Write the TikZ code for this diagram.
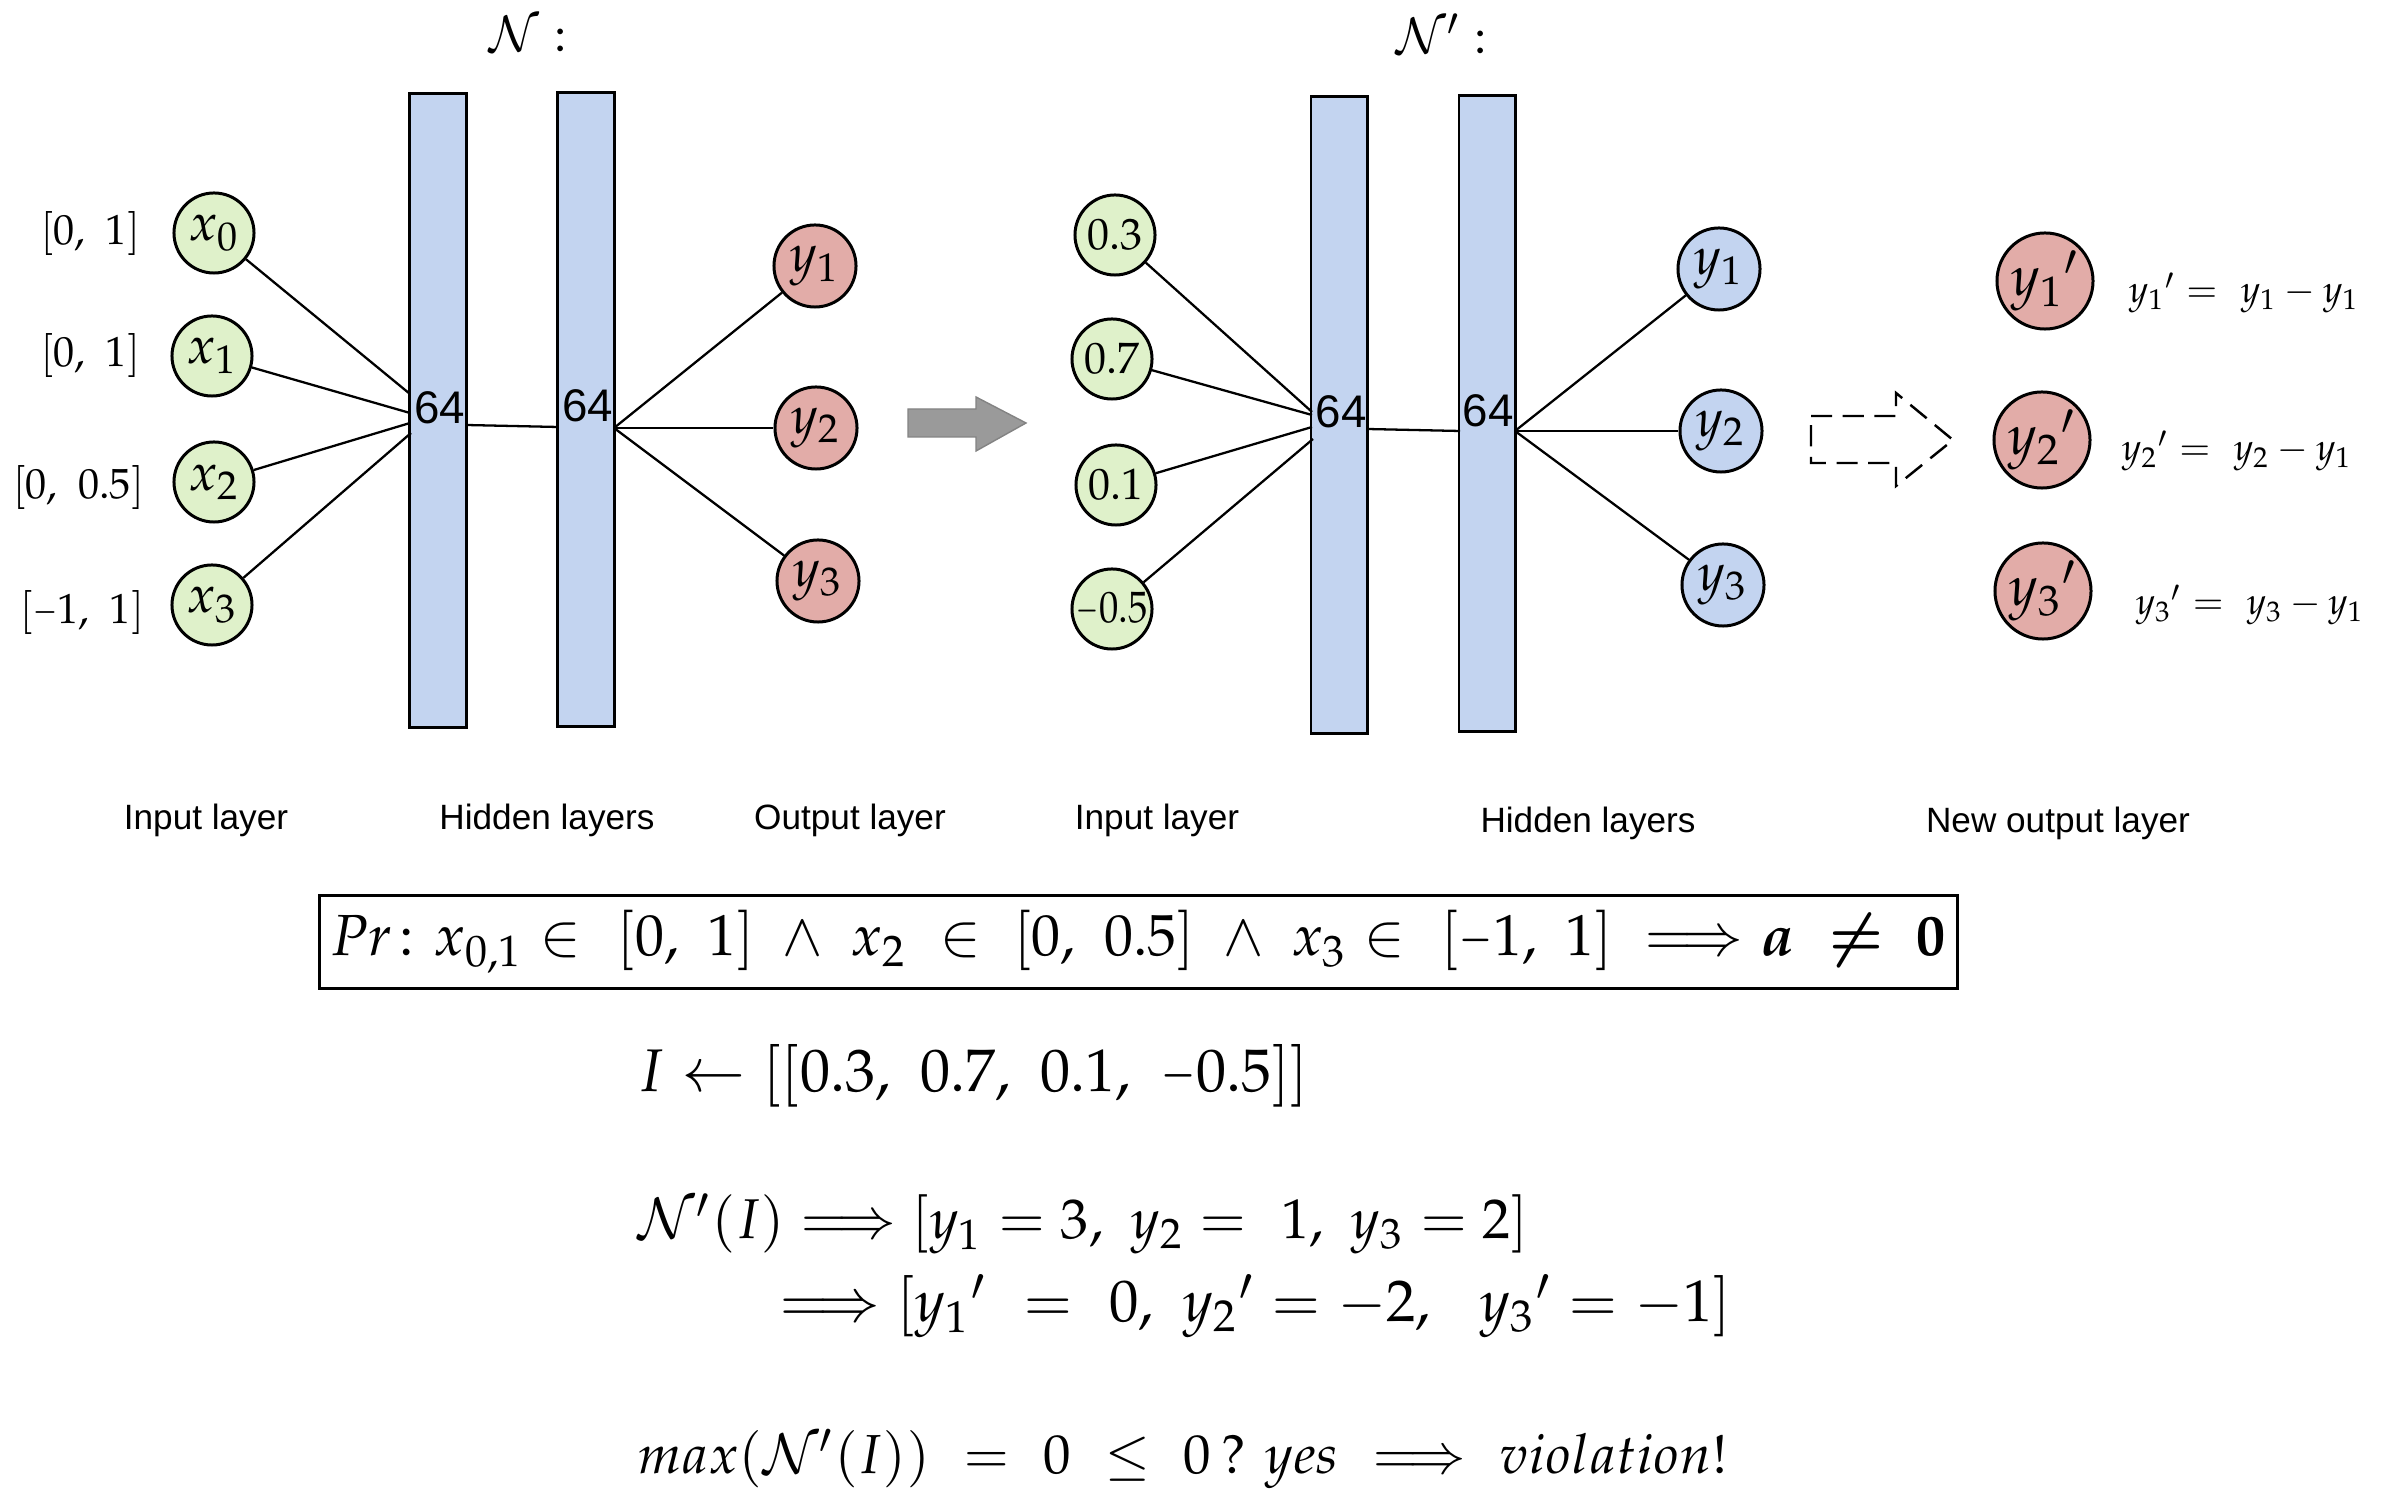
\documentclass[tikz,border=0pt]{standalone}
\usepackage[no-math]{fontspec}
\usepackage{amsmath,amssymb}
\usepackage{mathpazo}
\newfontfamily\arialf{Liberation Sans}
\definecolor{ingreen}{HTML}{DFF1CA}
\definecolor{outred}{HTML}{E2ACA8}
\definecolor{barblue}{HTML}{C3D4F0}
\definecolor{arrgray}{HTML}{9A9A9A}
\newcommand{\shortminus}{\scalebox{0.7}[1]{$-$}}
\tikzset{
  neuron/.style={circle, draw=black, line width=0.85pt, inner sep=0pt, minimum size=0.8cm},
  innode/.style={neuron, fill=ingreen, font=\fontsize{15}{17}\selectfont},
  numnode/.style={neuron, fill=ingreen, font=\fontsize{12.5}{14}\selectfont},
  outnode/.style={neuron, fill=outred, minimum size=0.82cm, font=\fontsize{15}{17}\selectfont},
  bluenode/.style={neuron, fill=barblue, minimum size=0.82cm, font=\fontsize{15}{17}\selectfont},
  newnode/.style={neuron, fill=outred, minimum size=0.96cm, font=\fontsize{16}{18}\selectfont},
  layerbar/.style={rectangle, draw=black, line width=0.85pt, fill=barblue, inner sep=0pt, minimum width=0.56cm, minimum height=6.34cm},
  conn/.style={line width=0.65pt},
  layerlab/.style={font=\arialf\fontsize{10}{12}\selectfont, inner sep=0pt},
  sixtyfour/.style={font=\arialf\fontsize{13}{15}\selectfont, inner sep=0pt},
  rangelab/.style={anchor=east, inner sep=0pt, font=\fontsize{12}{14}\selectfont},
  titlelab/.style={inner sep=0pt, font=\fontsize{14}{16}\selectfont},
  eqlab/.style={anchor=west, inner sep=0pt},
}
\begin{document}
\begin{tikzpicture}[x=0.01cm, y=-0.01cm]
\useasboundingbox (0,0) rectangle (2390,1504);

% ---------- titles
\node[titlelab] (t1) at (528,34) {$\mathcal{N}:$};
\node[titlelab] (t2) at (1442,34) {$\mathcal{N}':$};

% ---------- left network
\node[layerbar] (b1) at (438,410.5) {};
\node[layerbar, minimum width=0.57cm] (b2) at (586,409.5) {};
\node[sixtyfour] (n64a) at (440,408) {64};
\node[sixtyfour] (n64b) at (588,406) {64};

\node[innode] (x0) at (214,233) {$x_0$};
\node[innode] (x1) at (212,356) {$x_1$};
\node[innode] (x2) at (214,482) {$x_2$};
\node[innode] (x3) at (212,605) {$x_3$};

\node[rangelab] (r0) at (141,234) {$[0,\ 1]$};
\node[rangelab] (r1) at (141,356) {$[0,\ 1]$};
\node[rangelab] (r2) at (145,488) {$[0,\ 0.5]$};
\node[rangelab] (r3) at (145,613) {$[\shortminus 1,\ 1]$};

\node[outnode] (y1) at (815,266) {$y_1$};
\node[outnode] (y2) at (816,428) {$y_2$};
\node[outnode] (y3) at (818,581) {$y_3$};

\coordinate (c0) at (410,394);
\coordinate (c1) at (410,413);
\coordinate (c2) at (410,423);
\coordinate (c3) at (411,433);
\coordinate (h1o) at (466,425);
\coordinate (h2i) at (558,427);
\coordinate (h2o) at (614,428);

\draw[conn] (x0) -- (c0);
\draw[conn] (x1) -- (c1);
\draw[conn] (x2) -- (c2);
\draw[conn] (x3) -- (c3);
\draw[conn] (h1o) -- (h2i);
\draw[conn] (h2o) -- (y1);
\draw[conn] (h2o) -- (y2);
\draw[conn] (h2o) -- (y3);

% ---------- gray arrow
\filldraw[fill=arrgray, draw=arrgray!85!black, line width=0.4pt]
  (908,409) -- (976,409) -- (976,397) -- (1026,423) -- (976,451) -- (976,437) -- (908,437) -- cycle;

% ---------- right network
\node[layerbar, minimum height=6.36cm] (b3) at (1339,415) {};
\node[layerbar, minimum height=6.35cm] (b4) at (1487,413.5) {};
\node[sixtyfour] (n64c) at (1341,412) {64};
\node[sixtyfour] (n64d) at (1488,411) {64};

\node[numnode] (i0) at (1115,235) {$0.3$};
\node[numnode] (i1) at (1112,359) {$0.7$};
\node[numnode] (i2) at (1116,485) {$0.1$};
\node[numnode] (i3) at (1112,609) {\scalebox{0.88}[1]{$\shortminus 0.5$}};

\node[bluenode] (z1) at (1719,269) {$y_1$};
\node[bluenode] (z2) at (1721,431) {$y_2$};
\node[bluenode] (z3) at (1723,585) {$y_3$};

\coordinate (d0) at (1312,412);
\coordinate (d1) at (1312,415);
\coordinate (d2) at (1312,427);
\coordinate (d3) at (1313,439);
\coordinate (h3o) at (1367,429);
\coordinate (h4i) at (1460,431);
\coordinate (h4o) at (1515,431);

\draw[conn] (i0) -- (d0);
\draw[conn] (i1) -- (d1);
\draw[conn] (i2) -- (d2);
\draw[conn] (i3) -- (d3);
\draw[conn] (h3o) -- (h4i);
\draw[conn] (h4o) -- (z1);
\draw[conn] (h4o) -- (z2);
\draw[conn] (h4o) -- (z3);

% ---------- dashed arrow
\draw[dash pattern=on 6pt off 3pt, line width=0.7pt]
  (1811,416) -- (1896,416) -- (1896,393) -- (1953,440) -- (1896,486) -- (1896,463) -- (1811,463) -- cycle;

% ---------- new outputs
\node[newnode] (w1) at (2045,281) {$y_1{}'$};
\node[newnode] (w2) at (2042,440) {$y_2{}'$};
\node[newnode] (w3) at (2043,591) {$y_3{}'$};
\node[eqlab] (e1) at (2128,293) {\resizebox{2.30cm}{!}{$y_1{}' =\ y_1 - y_1$}};
\node[eqlab] (e2) at (2121,451) {\resizebox{2.30cm}{!}{$y_2{}' =\ y_2 - y_1$}};
\node[eqlab] (e3) at (2135,605) {\resizebox{2.28cm}{!}{$y_3{}' =\ y_3 - y_1$}};

% ---------- layer labels
\node[layerlab] (L1) at (206,820) {Input layer};
\node[layerlab] (L2) at (547,820) {Hidden layers};
\node[layerlab] (L3) at (850,820) {Output layer};
\node[layerlab] (L4) at (1157,820) {Input layer};
\node[layerlab] (L5) at (1588,823) {Hidden layers};
\node[layerlab] (L6) at (2058,823) {New output layer};

% ---------- property box and derivation
\node[draw, line width=0.85pt, minimum width=16.37cm, minimum height=0.92cm, inner sep=0pt] (pr) at (1138.5,942)
  {\resizebox{16.15cm}{!}{$Pr\colon x_{0,1} \in\ [0,\ 1] \;\wedge\; x_2 \;\in\; [0,\ 0.5] \;\wedge\; x_3 \in\ [\shortminus 1,\ 1] \;\Longrightarrow \boldsymbol{a}\; \boldsymbol{\neq}\; \mathbf{0}$}};

\node[eqlab] (l2) at (637,1076) {\resizebox{6.71cm}{!}{$I \leftarrow [[0.3,\ 0.7,\ 0.1,\ \shortminus 0.5]]$}};
\node[eqlab] (l3) at (637,1224) {\resizebox{8.90cm}{!}{$\mathcal{N}'(I) \Longrightarrow [y_1 = 3,\ y_2 =\ 1,\ y_3 = 2]$}};
\node[eqlab] (l4) at (779,1306) {\resizebox{9.51cm}{!}{$\Longrightarrow [y_1{}'\ =\ 0,\ y_2{}' = -2,\ \ y_3{}' = -1]$}};
\node[eqlab] (l5) at (637,1459) {\resizebox{10.90cm}{!}{$max(\mathcal{N}'(I))\ =\ 0\ \leq\ 0\,?\ yes\ \Longrightarrow\ violation!$}};
\end{tikzpicture}
\end{document}
